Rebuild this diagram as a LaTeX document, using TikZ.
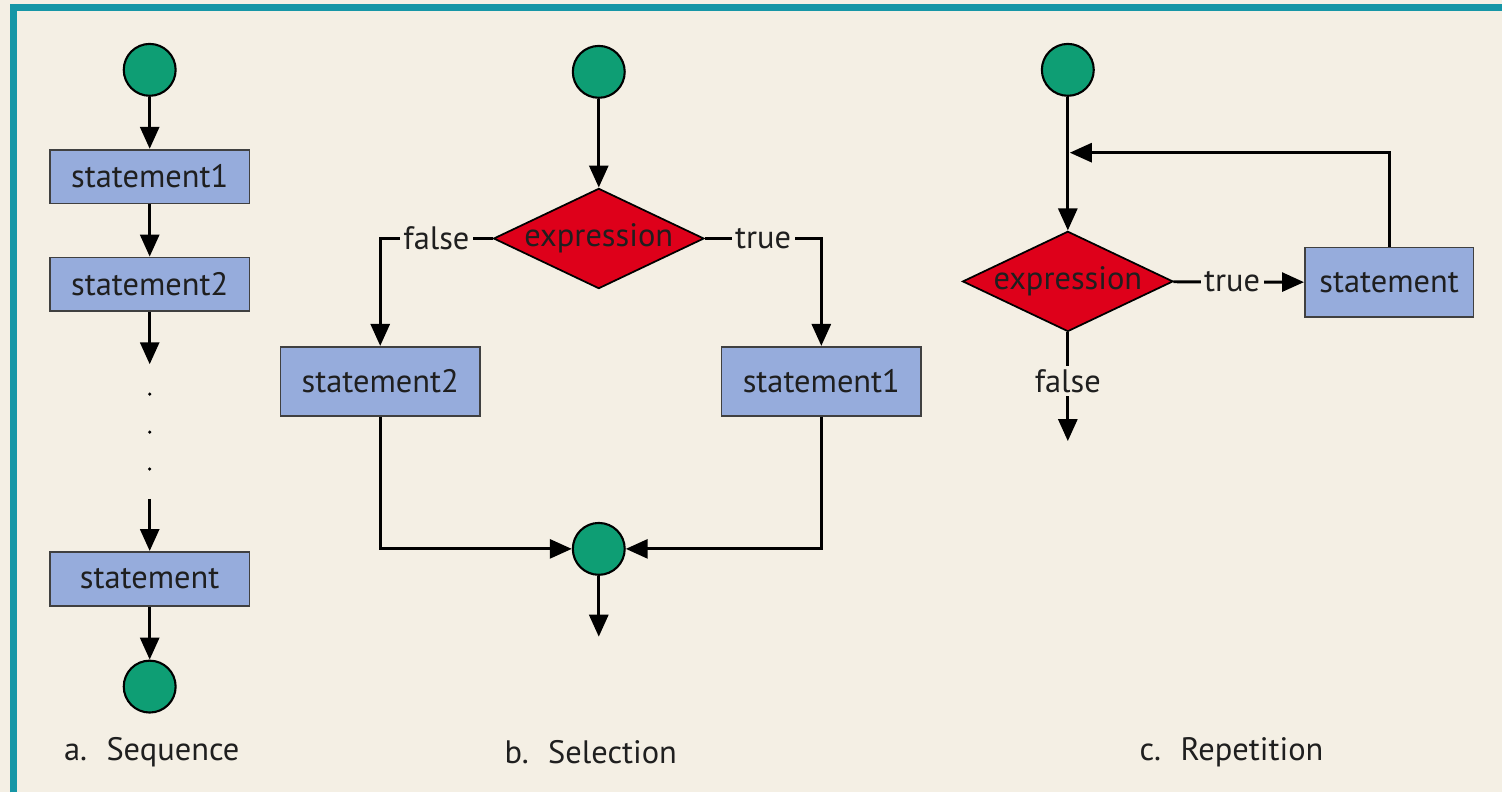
\documentclass[tikz,border=0pt]{standalone}
\usepackage{fontspec}
\setmainfont{PT Sans}
\usetikzlibrary{arrows.meta,shapes.geometric}
\definecolor{paper}{RGB}{244,239,228}
\definecolor{frame}{RGB}{22,150,166}
\definecolor{dot}{RGB}{14,158,116}
\definecolor{stmt}{RGB}{150,172,220}
\definecolor{cond}{RGB}{222,0,26}
\tikzset{
joint/.style={circle,draw,fill=dot,line width=1.2pt,minimum size=1.04cm,inner sep=0pt},
stmtbox/.style={rectangle,draw=black!75,fill=stmt,line width=1pt,
  minimum width=4cm,minimum height=1.08cm,inner sep=0pt},
test/.style={diamond,draw,fill=cond,line width=1pt,aspect=2.1,
  minimum width=4.18cm,minimum height=1.95cm,inner sep=0pt},
tag/.style={fill=paper,inner sep=2pt},
flow/.style={line width=1.7pt,-{Triangle[length=0.44cm,width=0.38cm]}}
}
\begin{document}
\begin{tikzpicture}[x=0.02cm,y=-0.02cm,font=\fontsize{18.5}{22}\selectfont,text=black!88]
\fill[paper] (0,0) rectangle (1505,794);
\draw[frame,line width=3.5pt] (13.5,794) -- (13.5,7.5) -- (1505,7.5);
\useasboundingbox (0,0) rectangle (1505,794);
\node[joint] (s0) at (150,70) {};
\node[stmtbox] (s1) at (150,177) {statement1};
\node[stmtbox] (s2) at (150,285) {statement2};
\coordinate (s2e) at (150,365);
\coordinate (s3b) at (150,500);
\node[stmtbox] (s3) at (150,580) {statement};
\node[joint] (s4) at (150,688) {};
\node (sa) at (152,754) {a.\hspace{0.6em}Sequence};
\foreach \y in {395,433,470} \fill (150,\y) circle (1pt);
\path[flow] (s0) edge (s1) (s1) edge (s2) (s2) edge (s2e) (s3b) edge (s3) (s3) edge (s4);
\node[joint] (b0) at (600,72) {};
\node[test] (b1) at (600,239) {expression};
\node[stmtbox,minimum height=1.38cm] (b2) at (381,382) {statement2};
\node[stmtbox,minimum height=1.38cm] (b3) at (823,382) {statement1};
\node[joint] (b4) at (600,550) {};
\coordinate (b5) at (600,638);
\node (sb) at (592,754) {b.\hspace{0.6em}Selection};
\draw[flow] (b0) -- (b1);
\draw[flow] (b1.west) -| node[tag,pos=0.25]{false} (b2);
\draw[flow] (b1.east) -| node[tag,pos=0.25]{true} (b3);
\draw[flow] (b2) |- (b4);
\draw[flow] (b3) |- (b4);
\draw[flow] (b4) -- (b5);
\node[joint] (r0) at (1070,70) {};
\node[test] (r1) at (1070,282) {expression};
\node[stmtbox,minimum width=3.38cm,minimum height=1.4cm] (r2) at (1392,283) {statement};
\coordinate (r3) at (1070,442);
\coordinate (r4) at (1072,153);
\node (sc) at (1234,754) {c.\hspace{0.6em}Repetition};
\draw[flow] (r0) -- (r1);
\draw[flow] (r2) |- (r4);
\draw[flow] (r1) -- node[tag,pos=0.45]{true} (r2);
\draw[flow] (r1) -- node[tag,pos=0.45]{false} (r3);
\end{tikzpicture}
\end{document}
